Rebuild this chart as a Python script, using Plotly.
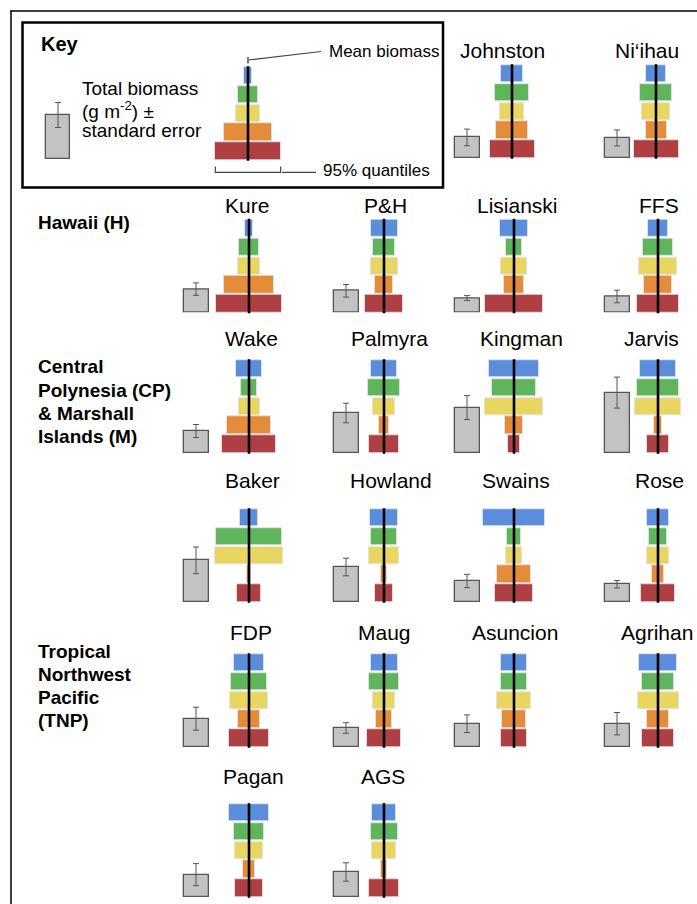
import plotly.graph_objects as go

W, H = 697, 904

# ---------------- data ----------------
islands = ["Johnston", "Ni‘ihau", "Kure", "P&H", "Lisianski", "FFS",
           "Wake", "Palmyra", "Kingman", "Jarvis",
           "Baker", "Howland", "Swains", "Rose",
           "FDP", "Maug", "Asuncion", "Agrihan",
           "Pagan", "AGS"]

# pyramid bar widths (95% quantile range) per trophic group, top -> bottom
blue   = [21.7, 19.3,  8.4, 27.0, 28.8, 19.6, 25.6, 26.3, 49.1, 36.8, 18.2, 27.4, 62.1, 22.1, 30.5, 27.0, 25.3, 38.6, 40.7, 23.7]
green  = [33.3, 31.7, 19.3, 22.1, 16.8, 30.2, 15.8, 32.6, 44.6, 42.1, 66.7, 26.0, 13.7, 17.5, 36.8, 29.1, 25.3, 31.6, 29.3, 27.0]
yellow = [24.0, 28.3, 22.1, 27.0, 25.3, 37.2, 21.0, 22.1, 57.2, 45.6, 68.4, 30.9, 15.8, 22.1, 37.2, 22.8, 33.7, 41.0, 28.3, 23.3]
orange = [31.3, 21.0, 49.8, 18.2, 20.3, 28.1, 43.1, 10.5, 17.5,  8.4,  4.9,  5.6, 34.7, 12.3, 22.1, 16.5, 23.5, 22.8, 12.0,  6.7]
red    = [45.0, 45.0, 65.2, 38.5, 58.0, 41.4, 54.4, 30.9, 12.3, 22.8, 23.9, 17.5, 37.5, 33.3, 39.3, 34.0, 25.3, 31.6, 28.7, 29.7]

# total biomass and standard error
total_biomass = [20.6, 20.0, 23.4, 21.7, 14.4, 16.0, 22.0, 40.0, 45.4, 60.4, 41.7, 35.0, 21.0, 17.7, 28.3, 19.0, 23.3, 23.3, 22.4, 25.0]
total_se      = [ 8.3,  8.0,  6.2,  6.3,  2.5,  6.3,  6.5,  9.8, 12.0, 15.5, 13.3,  8.8,  6.7,  3.7, 11.5,  5.3,  8.8, 11.2, 11.0,  9.2]

# key example
key_widths = [8.9, 20.0, 23.1, 48.9, 65.3]
key_total, key_se = 44.0, 12.5

colors = ["#5b8ddd", "#5fb55b", "#e9d660", "#e58c3b", "#ae3f43"]

# ---------------- layout (pixels) ----------------
slots = [(0, 2), (0, 3), (1, 0), (1, 1), (1, 2), (1, 3),
         (2, 0), (2, 1), (2, 2), (2, 3), (3, 0), (3, 1), (3, 2), (3, 3),
         (4, 0), (4, 1), (4, 2), (4, 3), (5, 0), (5, 1)]
title_x = [502, 647, 247, 385, 517, 659,
           251, 389, 521, 651, 252, 391, 516, 659,
           251, 384, 515, 657, 253, 383]
col_cx = [249, 384, 514, 658]
row0_cx = {2: 512, 3: 656}
grey_cx = [196, 346, 467, 617]
row_bottom = [158, 312.5, 453, 602, 747, 897]
row_title_y = [50, 205, 338, 481, 632, 776]
PITCH = 18.9
BAR_T = 0.92
KEY_CX, KEY_RB = 248, 160


def px(x):
    return min(max(x / W, 0), 1)


def py(y):
    return min(max(1 - y / H, 0), 1)


fig = go.Figure()
layout_axes = {}
n_ax = [0]


def new_axes(x0, x1, ytop, ybot, xr, yr):
    n_ax[0] += 1
    n = n_ax[0]
    sx = "" if n == 1 else str(n)
    layout_axes["xaxis" + sx] = dict(domain=[px(x0), px(x1)], range=xr, visible=False,
                                     fixedrange=True, anchor="y" + sx)
    layout_axes["yaxis" + sx] = dict(domain=[py(ybot), py(ytop)], range=yr, visible=False,
                                     fixedrange=True, anchor="x" + sx)
    return "x" + sx, "y" + sx


def add_pyramid(cx, rb, widths):
    half = 37
    bot = rb + (0.5 - BAR_T / 2) * PITCH
    top = bot - 5 * PITCH
    xa, ya = new_axes(cx - half, cx + half, top, bot, [-half, half], [-0.5, 4.5])
    levels = [4, 3, 2, 1, 0]
    fig.add_trace(go.Bar(orientation="h", y=levels, x=widths,
                         base=[-w / 2 for w in widths], width=BAR_T,
                         marker=dict(color=colors, line=dict(color="rgba(225,225,225,0.9)", width=1)),
                         xaxis=xa, yaxis=ya, showlegend=False, hoverinfo="skip"))
    fig.add_trace(go.Scatter(x=[0, 0], y=[-0.64, 4.64], mode="lines",
                             line=dict(color="black", width=2.6), cliponaxis=False,
                             xaxis=xa, yaxis=ya, showlegend=False, hoverinfo="skip"))
    return xa, ya


def add_grey(gc, rb, total, se, bw=25):
    dom_w = 28
    xa, ya = new_axes(gc - dom_w / 2, gc + dom_w / 2, rb - 100, rb, [-0.5, 0.5], [0, 100])
    fig.add_trace(go.Bar(x=[0], y=[total], width=bw / dom_w,
                         marker=dict(color="#c3c3c3", line=dict(color="#555555", width=1.3)),
                         error_y=dict(type="data", array=[se], color="#555555", thickness=1, width=3),
                         xaxis=xa, yaxis=ya, showlegend=False, hoverinfo="skip"))


annotations = []


def text(x, y, s, size=21, xanchor="center"):
    annotations.append(dict(x=px(x), y=py(y), xref="paper", yref="paper", text=s,
                            showarrow=False, xanchor=xanchor, yanchor="middle",
                            font=dict(family="Liberation Sans, Arial, sans-serif",
                                      size=size, color="black"),
                            align="left"))


for i, name in enumerate(islands):
    r, c = slots[i]
    cx = row0_cx[c] if r == 0 else col_cx[c]
    rb = row_bottom[r]
    widths = [blue[i], green[i], yellow[i], orange[i], red[i]]
    add_pyramid(cx, rb, widths)
    add_grey(grey_cx[c], rb, total_biomass[i], total_se[i])
    text(title_x[i], row_title_y[r], name, size=21)

# key
add_pyramid(KEY_CX, KEY_RB, key_widths)
add_grey(58, 159, key_total, key_se, bw=24)

LINE = dict(color="#444444", width=1.2)
shapes = []
shapes.append(dict(type="line", xref="paper", yref="paper", x0=px(11), x1=px(11), y0=py(10.5), y1=0,
                   line=dict(color="black", width=1.5)))
shapes.append(dict(type="line", xref="paper", yref="paper", x0=px(10.3), x1=1, y0=py(11), y1=py(11),
                   line=dict(color="black", width=1.5)))
shapes.append(dict(type="rect", xref="paper", yref="paper", x0=px(22.5), x1=px(443), y0=py(22.5), y1=py(187.5),
                   line=dict(color="black", width=2.5)))
# 95% quantile bracket spanning the key's widest (bottom) bar
kr = key_widths[-1] / 2
bl, br = KEY_CX - kr, KEY_CX + kr
shapes.append(dict(type="path", xref="paper", yref="paper",
                   path=(f"M {px(bl)},{py(166.5)} L {px(bl)},{py(172.3)} "
                         f"L {px(br)},{py(172.3)} L {px(br)},{py(166.5)}"),
                   line=LINE))
shapes.append(dict(type="line", xref="paper", yref="paper", x0=px(br + 1.5), x1=px(316),
                   y0=py(172.3), y1=py(172.3), line=LINE))
# mean biomass marker
shapes.append(dict(type="line", xref="paper", yref="paper", x0=px(KEY_CX), x1=px(KEY_CX),
                   y0=py(57), y1=py(63.5), line=dict(color="#444444", width=1.4)))
shapes.append(dict(type="line", xref="paper", yref="paper", x0=px(KEY_CX + 1), x1=px(321),
                   y0=py(60), y1=py(51.5), line=LINE))

text(39, 44, "<b>Key</b>", size=20, xanchor="left")
text(80, 89, "Total biomass", size=19, xanchor="left")
text(80, 109.5, "(g m<sup>-2</sup>) ±", size=19, xanchor="left")
text(80, 130, "standard error", size=19, xanchor="left")
text(327, 52, "Mean biomass", size=17, xanchor="left")
text(321, 170, "95% quantiles", size=17, xanchor="left")

reg_lines = [(["Hawaii (H)"], 222),
             (["Central", "Polynesia (CP)", "& Marshall", "Islands (M)"], 367),
             (["Tropical", "Northwest", "Pacific", "(TNP)"], 651)]
for lines, y0 in reg_lines:
    for j, ln in enumerate(lines):
        text(36, y0 + j * 23.3, "<b>" + ln + "</b>", size=19, xanchor="left")

fig.update_layout(width=W, height=H, margin=dict(l=0, r=0, t=0, b=0),
                  paper_bgcolor="white", plot_bgcolor="rgba(0,0,0,0)",
                  barmode="overlay", bargap=0,
                  annotations=annotations, shapes=shapes, showlegend=False,
                  **layout_axes)

fig.write_html("out.html", config={"displayModeBar": False},
               post_script="document.body.style.margin='0';document.body.style.overflow='hidden';")
